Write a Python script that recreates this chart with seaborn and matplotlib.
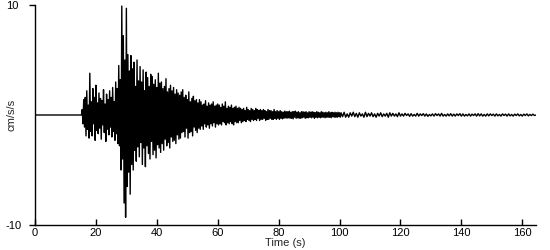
import numpy as np
import pandas as pd
import matplotlib
matplotlib.use("Agg")
import matplotlib.pyplot as plt
import seaborn as sns

# Acceleration (cm/s/s), segment by segment.
# Samples every 0.25 s from t = 0 to 100.25 s, then every 0.5 s to 164.5 s.
pre_event = [0.0] * 62                                                     # 0 - 15.25 s
onset = [0.5, -0.8, 1.4, -1.1, 1.6, -1.9, 2.2, -1.3, 0.9, -2.1, 3.8, -1.5,
         1.2, -1.9, 2.4, -0.8, 1.6, -2.3, 2.7, -1.4, 1.1, -1.7, 2.0, -1.2,
         1.5, -2.2, 1.3, -0.9, 2.3, -1.6, 1.0, -2.4, 1.9, -1.3, 1.4, -1.8,
         2.2, -1.1, 1.6, -2.0, 2.5, -1.5, 1.2, -2.3, 3.0, -1.7, 2.4, -2.6]  # 15.5 - 27.25
peak = [4.5, -2.8, 3.2, -5.0, 9.9, -4.0, 7.2, -8.0, 5.0, -9.3,
        9.7, -6.5, 5.5, -5.2, 4.0, -7.2, 5.4, -4.5, 4.2, -5.0]             # 27.5 - 32.25
strong = [4.8, -3.2, 2.6, -4.2, 5.0, -2.9, 3.1, -3.8, 4.4, -2.5, 3.0, -4.5,
          4.1, -3.0, 2.2, -4.7, 3.9, -2.8, 3.4, -3.5, 2.6, -4.0, 3.7, -2.4,
          3.5, -3.6, 2.8, -3.2, 3.2, -3.9, 2.5, -2.7, 3.8, -3.0, 2.9, -3.4,
          3.0, -2.6, 2.4, -3.2, 2.6, -2.2, 3.3, -2.8, 2.1, -2.5, 2.4, -3.0,
          2.7, -2.0, 2.2, -2.4, 2.5, -2.3, 1.9, -2.6, 2.3, -1.8, 2.0, -2.2,
          1.8, -2.1, 2.1, -1.6]                                            # 32.5 - 48.25
decay = [2.3, -1.5, 1.6, -2.0, 1.8, -1.2, 1.4, -2.1, 2.1, -1.6, 1.2, -1.5,
         1.5, -1.9, 1.7, -1.1, 1.3, -1.4, 1.4, -1.6, 1.1, -1.2, 1.4, -1.3,
         1.2, -1.0, 0.9, -1.3, 1.0, -0.8, 1.3, -1.1, 0.8, -0.9, 1.1, -1.2,
         0.9, -0.8, 1.0, -1.0, 1.2, -0.7, 0.8, -1.1, 0.9, -0.8, 1.0, -0.9,
         0.9, -0.8, 0.7, -0.9, 1.0, -0.6, 0.8, -0.7, 1.2, -0.9, 0.6, -0.7,
         0.8, -0.8, 0.7, -0.6, 0.9, -0.8, 0.6, -0.9, 0.7, -0.6, 0.8, -0.7,
         0.6, -0.7, 0.7, -0.5, 0.6, -0.7, 0.5, -0.6]                       # 48.5 - 68.25
coda = [0.6, -0.5, 0.4, -0.6, 0.7, -0.4, 0.5, -0.5, 0.4, -0.6, 0.6, -0.4,
        0.5, -0.5, 0.4, -0.4, 0.6, -0.5, 0.5, -0.3, 0.4, -0.5, 0.5, -0.4,
        0.4, -0.4, 0.5, -0.3, 0.4, -0.5, 0.3, -0.4, 0.5, -0.4, 0.4, -0.3,
        0.4, -0.4, 0.3, -0.4, 0.5, -0.3, 0.3, -0.4, 0.4, -0.3, 0.3, -0.4,
        0.4, -0.3, 0.3, -0.35, 0.25, -0.3, 0.35, -0.25, 0.3, -0.3,
        0.3, -0.25, 0.35, -0.3, 0.25, -0.3, 0.3, -0.35, 0.3, -0.2,
        0.35, -0.3, 0.25, -0.25, 0.3, -0.3, 0.2, -0.3, 0.3, -0.25,
        0.3, -0.2, 0.25, -0.3, 0.3, -0.25, 0.2, -0.25, 0.3, -0.2,
        0.25, -0.25, 0.3, -0.2, 0.25, -0.3, 0.2, -0.2, 0.3, -0.25,
        0.25, -0.2, 0.2, -0.25, 0.3, -0.2, 0.25, -0.2, 0.2, -0.25,
        0.25, -0.2, 0.2, -0.2, 0.3, -0.2, 0.2, -0.25, 0.25, -0.15,
        0.2, -0.2, 0.25, -0.2, 0.2, -0.2, 0.25, -0.15, 0.2, -0.2]           # 68.5 - 100.25
tail = [0.2, -0.15, 0.25, -0.2, 0.1, -0.2, 0.2, -0.1, 0.25, -0.15,
        0.15, -0.2, 0.2, -0.1, 0.1, -0.2, 0.25, -0.15, 0.15, -0.1,
        0.2, -0.15, 0.1, -0.2, 0.15, -0.1, 0.2, -0.15, 0.1, -0.1,
        0.15, -0.2, 0.2, -0.1, 0.15, -0.1, 0.1, -0.15, 0.2, -0.1,
        0.1, -0.1, 0.15, -0.05, 0.1, -0.12, 0.12, -0.1, 0.05, -0.1,
        0.15, -0.1, 0.1, -0.05, 0.12, -0.1, 0.1, -0.12, 0.05, -0.08,
        0.1, -0.1, 0.12, -0.05, 0.1, -0.1, 0.15, -0.1, 0.05, -0.1,
        0.1, -0.08, 0.12, -0.1, 0.08, -0.1, 0.1, -0.05, 0.12, -0.1,
        0.1, -0.1, 0.05, -0.08, 0.1, -0.1, 0.08, -0.05, 0.1, -0.1,
        0.12, -0.08, 0.1, -0.1, 0.05, -0.1, 0.1, -0.08, 0.1, -0.05,
        0.08, -0.1, 0.1, -0.08, 0.05, -0.1, 0.1, -0.05, 0.08, -0.1,
        0.1, -0.08, 0.05, -0.1, 0.08, -0.05, 0.1, -0.08, 0.05, -0.1,
        0.08, -0.05, 0.1, -0.08, 0.05, -0.05, 0.08, -0.05, 0.0]            # 100.5 - 164.5

fine_dt = 0.25
tail_dt = 0.5
tail_start = 100.5

y_ticks = [-10, 10]
y_tick_labels = ["-10", "10"]
x_ticks = [0, 20, 40, 60, 80, 100, 120, 140, 160]

fine = pre_event + onset + peak + strong + decay + coda
acc = np.array(fine + tail)
time = np.concatenate([np.arange(len(fine)) * fine_dt,
                       tail_start + np.arange(len(tail)) * tail_dt])
df = pd.DataFrame({"Time (s)": time, "cm/s/s": acc})

sns.set_style("ticks")
plt.rcParams["font.family"] = ["Liberation Sans", "DejaVu Sans"]

fig = plt.figure(figsize=(5.5, 2.5), dpi=100)
ax = fig.add_axes([35 / 550, 0.10, (536 - 35) / 550, 0.88])

sns.lineplot(data=df, x="Time (s)", y="cm/s/s", color="black",
             linewidth=1.0, estimator=None, sort=False, ax=ax)

ax.set_xlim(0, 164.5)
ax.set_ylim(-10, 10)
ax.set_xticks(x_ticks)
ax.set_xticklabels([str(v) for v in x_ticks])
ax.set_yticks(y_ticks)
ax.set_yticklabels(y_tick_labels)

for s in ["top", "right"]:
    ax.spines[s].set_visible(False)
for s in ["left", "bottom"]:
    ax.spines[s].set_linewidth(1.0)
    ax.spines[s].set_color("black")

ax.tick_params(axis="x", direction="in", length=4, width=1, pad=2,
               labelsize=8, colors="black")
ax.tick_params(axis="y", direction="out", length=4, width=1, pad=17,
               labelsize=8, colors="black")
for lab in ax.get_yticklabels():
    lab.set_horizontalalignment("left")

ax.set_xlabel("Time (s)", fontsize=8, labelpad=0)
ax.set_ylabel("cm/s/s", fontsize=8)
ax.yaxis.set_label_coords(-18 / 501, 0.5)

fig.savefig("out.png", dpi=100)
